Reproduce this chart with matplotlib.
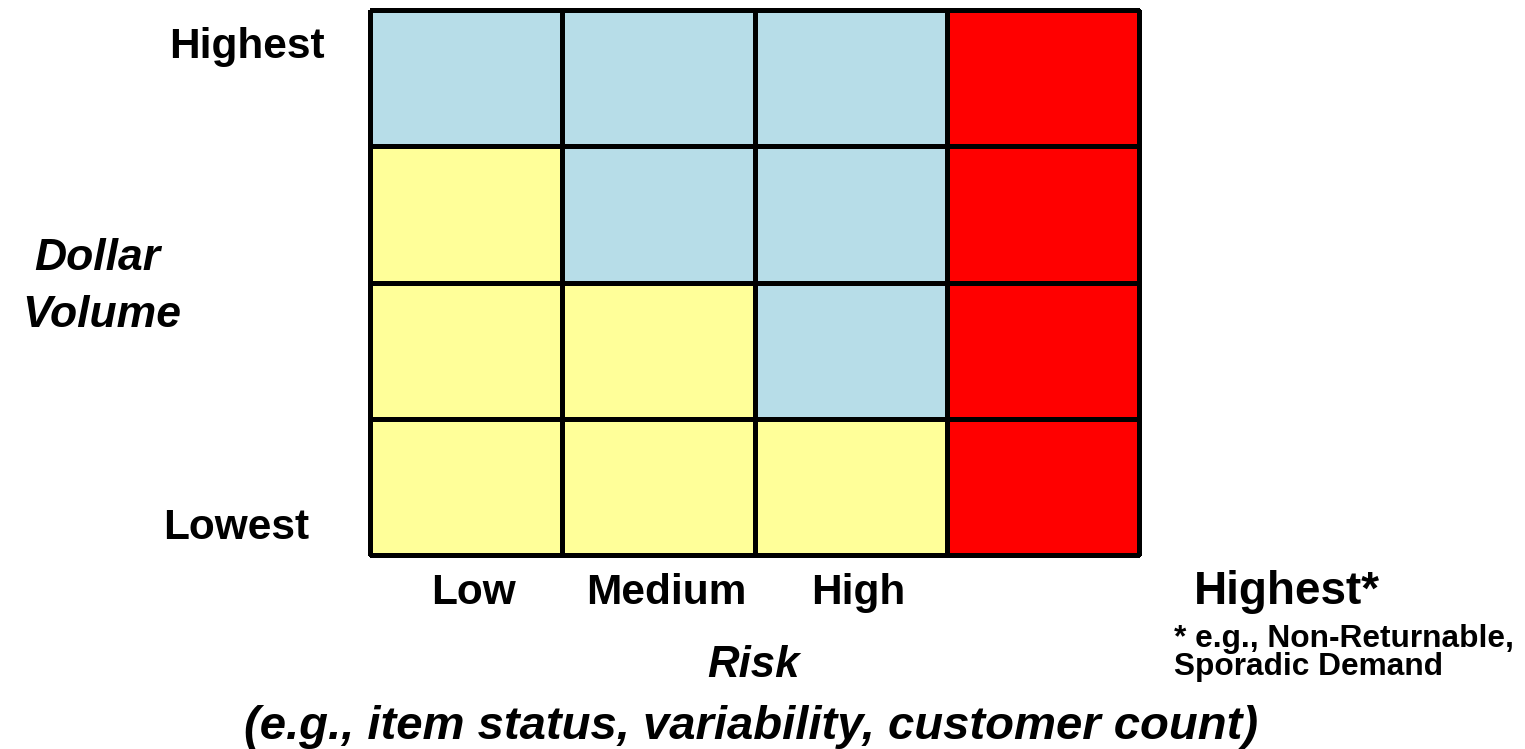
import matplotlib
matplotlib.use("Agg")
import matplotlib.pyplot as plt
from matplotlib.colors import ListedColormap
import numpy as np

plt.rcParams['font.family'] = ['Liberation Sans', 'DejaVu Sans']

# Segment class of each cell, rows listed from highest to lowest dollar volume,
# columns from low to highest risk: 0 = yellow, 1 = blue, 2 = red
segment_grid = [
    [1, 1, 1, 2],
    [0, 1, 1, 2],
    [0, 0, 1, 2],
    [0, 0, 0, 2],
]
segment_colors = ['#FFFF99', '#B7DDE8', '#FF0000']

risk_labels = ['Low', 'Medium', 'High', 'Highest*']
volume_labels = ['Highest', 'Lowest']
y_title = ['Dollar', 'Volume']
x_title = 'Risk'
x_subtitle = '(e.g., item status, variability, customer count)'
footnote = ['* e.g., Non-Returnable,', 'Sporadic Demand']

W, H = 1525, 749
fig = plt.figure(figsize=(W / 100, H / 100), dpi=100)

def fx(px):
    return px / W

def fy(py):
    return 1 - py / H

ax = fig.add_axes([fx(370), fy(555), (1139 - 370) / W, (555 - 10) / H])
grid = np.array(segment_grid)
mesh = ax.pcolormesh(grid, cmap=ListedColormap(segment_colors), vmin=-0.5, vmax=2.5,
                     edgecolors='black', linewidth=2.2)
mesh.set_clip_on(False)
ax.set_xlim(0, grid.shape[1])
ax.set_ylim(grid.shape[0], 0)
ax.axis('off')

big = 30.5
# Vertical-axis end labels
fig.text(fx(247), fy(58), volume_labels[0], ha='center', va='baseline',
         fontsize=big, fontweight='bold')
fig.text(fx(236), fy(539), volume_labels[1], ha='center', va='baseline',
         fontsize=big, fontweight='bold')

# Vertical-axis title
fig.text(fx(97), fy(270), y_title[0], ha='center', va='baseline', fontsize=32,
         fontweight='bold', fontstyle='italic')
fig.text(fx(102), fy(327), y_title[1], ha='center', va='baseline', fontsize=32,
         fontweight='bold', fontstyle='italic')

# Risk category labels
for label, cx, fs in zip(risk_labels, [474, 666, 858, 1287], [big, big, big, 33]):
    fig.text(fx(cx), fy(604), label, ha='center', va='baseline',
             fontsize=fs, fontweight='bold')

# Footnote for the highest-risk column
fig.text(fx(1174), fy(647), footnote[0], ha='left', va='baseline',
         fontsize=22.8, fontweight='bold')
fig.text(fx(1174), fy(675), footnote[1], ha='left', va='baseline',
         fontsize=22.8, fontweight='bold')

# Horizontal-axis title and subtitle
fig.text(fx(753), fy(677), x_title, ha='center', va='baseline', fontsize=31.5,
         fontweight='bold', fontstyle='italic')
fig.text(fx(751), fy(739), x_subtitle, ha='center', va='baseline', fontsize=34,
         fontweight='bold', fontstyle='italic')

fig.savefig('out.png', dpi=100, facecolor='white')
